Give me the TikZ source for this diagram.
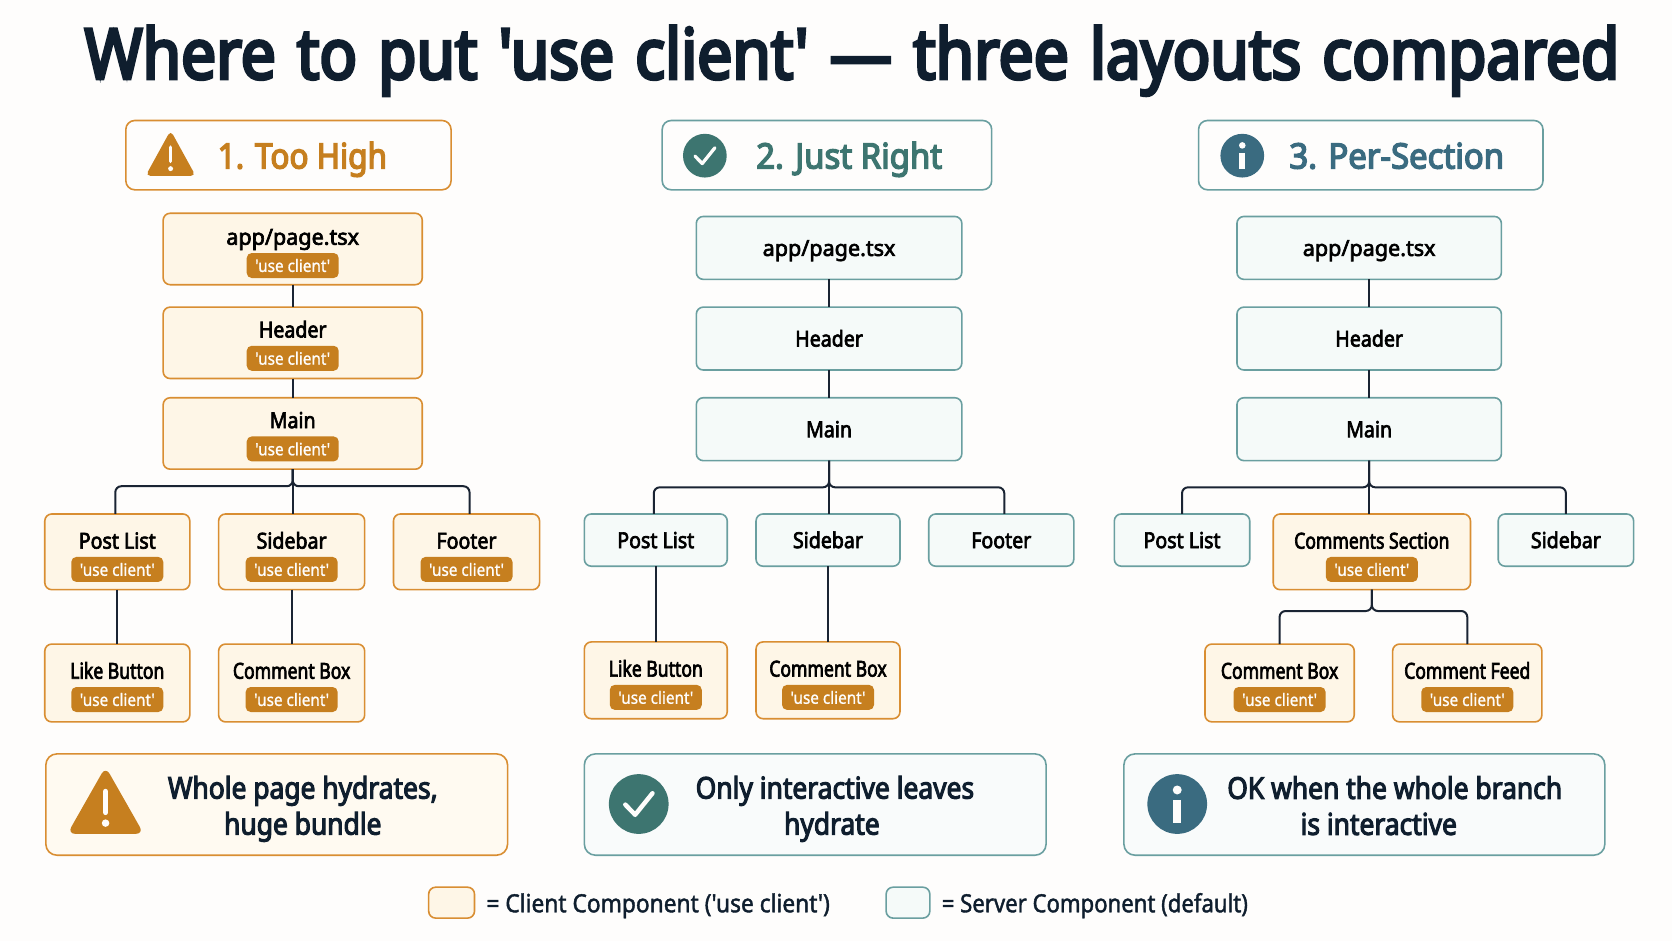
\documentclass[tikz,border=0pt]{standalone}
\usepackage{fontspec}
\newfontfamily\ttlfont{Noto Sans}[FakeBold=4.5,FakeStretch=0.89,WordSpace=1.3]
\newfontfamily\lblfont{Noto Sans}[FakeBold=3,FakeStretch=0.89]
\newfontfamily\nrwfont{Noto Sans}[FakeBold=3,FakeStretch=0.80]
\newfontfamily\widfont{Noto Sans}[FakeBold=3,FakeStretch=0.98]
\newfontfamily\hdafont{Noto Sans}[FakeBold=4,FakeStretch=0.90]
\newfontfamily\hdbfont{Noto Sans}[FakeBold=4,FakeStretch=0.94]
\newfontfamily\calfont{Noto Sans}[FakeBold=3.5,FakeStretch=0.88]
\newfontfamily\bdgfont{Noto Sans}[FakeBold=1,FakeStretch=0.9]
\newfontfamily\legfont{Noto Sans}[FakeBold=1.6,FakeStretch=0.91]
\newfontfamily\legbfont{Noto Sans}[FakeBold=1.6,FakeStretch=0.885]
\usetikzlibrary{calc}
\definecolor{bgc}{HTML}{FEFDFC}
\definecolor{orb}{HTML}{D98E32}
\definecolor{orf}{HTML}{FEF6E7}
\definecolor{orp}{HTML}{FFFAF1}
\definecolor{orc}{HTML}{C67F1F}
\definecolor{tlb}{HTML}{6A9FA0}
\definecolor{tlf}{HTML}{F5FAF9}
\definecolor{tlp}{HTML}{F9FBFB}
\definecolor{tlc}{HTML}{3D7570}
\definecolor{blc}{HTML}{3A6B80}
\definecolor{ink}{HTML}{0F1E2E}
\definecolor{wire}{HTML}{1A2433}
\tikzset{
 x=1.0663pt,y=-1.0663pt,
 boxbase/.style={rounded corners=7pt,line width=1.6pt,inner sep=0pt,outer sep=0pt},
 clientbox/.style={boxbase,draw=orb,fill=orf},
 serverbox/.style={boxbase,draw=tlb,fill=tlf},
 headc/.style={boxbase,rounded corners=9pt,draw=orb,fill=bgc},
 heads/.style={boxbase,rounded corners=9pt,draw=tlb,fill=bgc},
 callc/.style={boxbase,rounded corners=11pt,draw=orb,fill=orp},
 calls/.style={boxbase,rounded corners=11pt,draw=tlb,fill=tlp},
 lbl/.style={font=\lblfont\fontsize{22}{24}\selectfont,text=black,inner sep=0pt,anchor=base},
 lblnarrow/.style={lbl,font=\nrwfont\fontsize{22}{24}\selectfont},
 badge/.style={fill=orc,rounded corners=5pt,text=bgc,font=\bdgfont\fontsize{17}{19}\selectfont,minimum width=92pt,minimum height=25pt,inner sep=0pt},
 heada/.style={font=\hdafont\fontsize{35}{38}\selectfont,inner sep=0pt,anchor=base west},
 headb/.style={font=\hdbfont\fontsize{35}{38}\selectfont,inner sep=0pt,anchor=base west},
 calltxt/.style={font=\calfont\fontsize{30}{36}\selectfont,text=ink,inner sep=0pt},
 legtxt/.style={font=\legfont\fontsize{25}{28}\selectfont,text=ink,inner sep=0pt,anchor=base west},
 legtxtb/.style={legtxt,font=\legbfont\fontsize{25}{28}\selectfont},
 wireline/.style={draw=wire,line width=2pt,rounded corners=6pt},
}
% frame: name, x1,y1,x2,y2, style
\newcommand{\Frame}[6]{\node[#6,minimum width={(#4-#2)*1.0663pt},minimum height={(#5-#3)*1.0663pt}] (#1) at ({(#2+#4)/2},{(#3+#5)/2}) {};}
% client component: name,x1,y1,x2,y2,label y,text
\newcommand{\Client}[7]{\Frame{#1}{#2}{#3}{#4}{#5}{clientbox}
 \node[lbl] (#1-t) at ({(#2+#4)/2},#6+7.5) {#7};
 \node[badge] (#1-b) at ({(#2+#4)/2},#6+27) {'use client'};}
\newcommand{\ClientN}[7]{\Frame{#1}{#2}{#3}{#4}{#5}{clientbox}
 \node[lblnarrow] (#1-t) at ({(#2+#4)/2},#6+7.5) {#7};
 \node[badge] (#1-b) at ({(#2+#4)/2},#6+27) {'use client'};}
% server component: name,x1,y1,x2,y2,text
\newcommand{\Server}[6]{\Frame{#1}{#2}{#3}{#4}{#5}{serverbox}
 \node[lbl] (#1-t) at ($(#1.center)+(0,7.5)$) {#6};}
% icons: cx, cy, half-width, half-height, corner
\newcommand{\Warn}[5]{\fill[orc,rounded corners=#5] (#1,{#2-#4*1.25}) -- ({#1+#3*1.12},#2+#4) -- ({#1-#3*1.12},#2+#4) -- cycle;
 \draw[bgc,line width={#3*0.17pt},line cap=round] (#1,{#2-#4*0.42}) -- (#1,{#2+#4*0.28});
 \fill[bgc] (#1,{#2+#4*0.64}) circle ({#3*0.11});}
\newcommand{\Okay}[3]{\fill[tlc] (#1,#2) circle (#3);
 \draw[bgc,line width={#3*0.16pt},line cap=round,line join=round] ({#1-#3*.45},{#2+#3*.02}) -- ({#1-#3*.12},{#2+#3*.36}) -- ({#1+#3*.46},{#2-#3*.36});}
\newcommand{\Info}[3]{\fill[blc] (#1,#2) circle (#3);
 \fill[bgc] (#1,{#2-#3*.47}) circle ({#3*.15});
 \fill[bgc] ({#1-#3*.13},{#2-#3*.14}) rectangle ({#1+#3*.13},{#2+#3*.62});}
\begin{document}
\begin{tikzpicture}
\useasboundingbox[fill=bgc] (0,0) rectangle (1568,882.5);
\node[font=\ttlfont\fontsize{70}{74}\selectfont,text=ink,inner sep=0pt,anchor=base] (title) at (799,74) {Where to put 'use client' — three layouts compared};

% --- column 1
\Frame{h1}{118}{113}{423}{178}{headc}
\Warn{160}{146}{21}{19}{5pt}
\node[heada,text=orc] (h1t) at (204,158) {1. Too High};
\Client{a1}{153}{200}{396}{267}{222}{\widfont app/page.tsx}
\Client{b1}{153}{288}{396}{355}{309}{Header}
\Client{c1}{153}{373}{396}{440}{394}{Main}
\Client{d1}{42}{482}{178}{553}{507}{Post List}
\Client{e1}{205}{482}{342}{553}{507}{Sidebar}
\Client{f1}{369}{482}{506}{553}{507}{Footer}
\ClientN{g1}{42}{604}{178}{677}{629}{Like Button}
\ClientN{i1}{205}{604}{342}{677}{629}{Comment Box}
\draw[wireline] (a1) -- (b1);
\draw[wireline] (b1) -- (c1);
\draw[wireline] (c1.south) -- (c1.south |- e1.north);
\draw[wireline] (c1.south) -- ++(0,16) -| ([xshift=-2]d1.north);
\draw[wireline] (c1.south) -- ++(0,16) -| ([xshift=3]f1.north);
\draw[wireline] (d1) -- (g1);
\draw[wireline] (e1) -- (i1);

% --- column 2
\Frame{h2}{621}{113}{930}{178}{heads}
\Okay{661}{146}{20.5}
\node[headb,text=tlc] (h2t) at (709,158) {2. Just Right};
\Server{a2}{653}{203}{902}{262}{\widfont app/page.tsx}
\Server{b2}{653}{288}{902}{347}{Header}
\Server{c2}{653}{373}{902}{432}{Main}
\Server{d2}{548}{482}{682}{531}{Post List}
\Server{e2}{709}{482}{844}{531}{Sidebar}
\Server{f2}{871}{482}{1007}{531}{Footer}
\ClientN{g2}{548}{602}{682}{674}{627}{Like Button}
\ClientN{i2}{709}{602}{844}{674}{627}{Comment Box}
\draw[wireline] (a2) -- (b2);
\draw[wireline] (b2) -- (c2);
\draw[wireline] (c2.south) -- (c2.south |- e2.north);
\draw[wireline] (c2.south) -- ++(0,25) -| ([xshift=-2]d2.north);
\draw[wireline] (c2.south) -- ++(0,25) -| ([xshift=3]f2.north);
\draw[wireline] (d2) -- (g2);
\draw[wireline] (e2) -- (i2);

% --- column 3
\Frame{h3}{1124}{113}{1447}{178}{heads}
\Info{1165}{146}{20.5}
\node[headb,text=blc] (h3t) at (1209,158) {3. Per-Section};
\Server{a3}{1160}{203}{1408}{262}{\widfont app/page.tsx}
\Server{b3}{1160}{288}{1408}{347}{Header}
\Server{c3}{1160}{373}{1408}{432}{Main}
\Server{d3}{1045}{482}{1172}{531}{Post List}
\ClientN{e3}{1194}{482}{1379}{553}{507}{Comments Section}
\Server{f3}{1405}{482}{1532}{531}{Sidebar}
\ClientN{g3}{1130}{604}{1270}{677}{629}{Comment Box}
\ClientN{i3}{1306}{604}{1446}{677}{629}{Comment Feed}
\draw[wireline] (a3) -- (b3);
\draw[wireline] (b3) -- (c3);
\draw[wireline] (c3.south) -- (c3.south |- e3.north);
\draw[wireline] (c3.south) -- ++(0,25) -| (d3.north);
\draw[wireline] (c3.south) -- ++(0,25) -| (f3.north);
\draw[wireline] (e3.south) -- ++(0,20) -| (g3.north);
\draw[wireline] (e3.south) -- ++(0,20) -| (i3.north);

% --- callouts
\Frame{n1}{43}{707}{476}{802}{callc}
\Warn{99}{754}{32}{28}{8pt}
\node[calltxt,align=center] (n1t) at (284,758.5) {Whole page hydrates,\\huge bundle};
\Frame{n2}{548}{707}{981}{802}{calls}
\Okay{599}{754}{28}
\node[calltxt,align=center] (n2t) at (783,758.5) {Only interactive leaves\\hydrate\hspace*{6pt}};
\Frame{n3}{1054}{707}{1505}{802}{calls}
\Info{1104}{754}{28}
\node[calltxt,align=center] (n3t) at (1308,755.5) {OK when the whole branch\\is interactive\hspace*{32pt}};

% --- legend
\Frame{s1}{402}{832}{445}{861}{clientbox}
\node[legtxt] (l1) at (456,855.5) {= Client Component ('use client')};
\Frame{s2}{831}{832}{872}{861}{serverbox}
\node[legtxtb] (l2) at (883,855.5) {= Server Component (default)};
\end{tikzpicture}
\end{document}
